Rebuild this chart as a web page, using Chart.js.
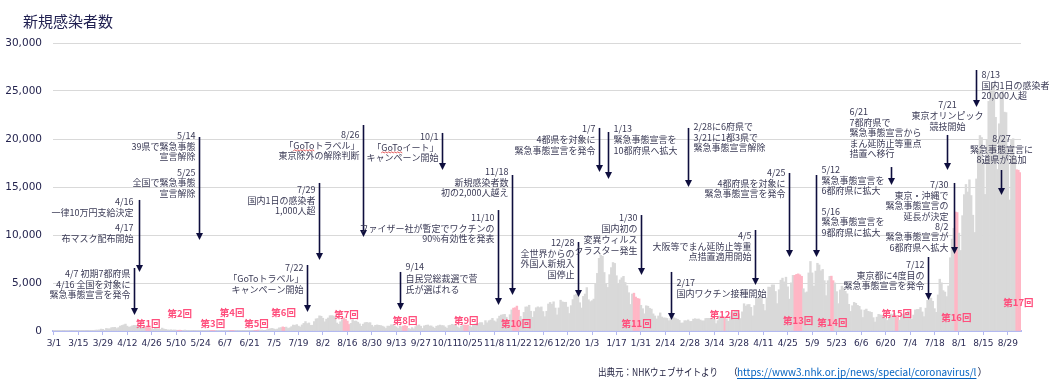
<!DOCTYPE html>
<html>
<head>
<meta charset="utf-8">
<script src="https://cdn.jsdelivr.net/npm/chart.js@4.4.1/dist/chart.umd.min.js"></script>
<style>
  html, body { margin: 0; padding: 0; background: #fff; }
</style>
</head>
<body>
<canvas id="myChart" width="1052" height="385"></canvas>
<script>
// daily new cases, 2020-03-01 ..
var mar2020 = [14, 15, 14, 33, 33, 59, 47, 33, 26, 54, 52, 56, 41, 64, 35, 15, 44, 39, 39, 54, 39, 37, 38, 65, 93, 97, 112, 200, 173, 85, 266];
var apr2020 = [225, 235, 351, 368, 383, 252, 351, 511, 576, 644, 720, 507, 390, 457, 549, 587, 576, 572, 386, 352, 373, 440, 436, 423, 344, 201, 184, 277, 243, 196];
var may2020 = [165, 302, 204, 175, 123, 98, 126, 91, 112, 90, 61, 89, 54, 61, 99, 44, 29, 31, 40, 50, 37, 26, 30, 21, 21, 34, 38, 84, 50, 31, 39];
var jun2020 = [34, 51, 39, 42, 47, 37, 46, 26, 45, 40, 56, 39, 45, 50, 42, 72, 41, 35, 71, 72, 49, 39, 57, 56, 60, 105, 90, 107, 58, 54];
var jul2020 = [127, 195, 250, 274, 208, 148, 207, 331, 355, 430, 385, 409, 260, 332, 450, 622, 585, 667, 510, 421, 632, 794, 981, 776, 839, 593, 602, 981, 1264, 1301, 1580];
var aug2020 = [1536, 1331, 959, 1236, 1356, 1595, 1605, 1569, 1439, 831, 700, 966, 1176, 1359, 1227, 1033, 680, 795, 1190, 1029, 1035, 913, 743, 491, 712, 866, 899, 852, 870, 599, 439];
var sep2020 = [595, 631, 588, 574, 509, 426, 265, 512, 500, 643, 643, 527, 434, 265, 513, 451, 522, 576, 490, 271, 203, 360, 232, 456, 566, 633, 499, 263, 537, 596];
var oct2020 = [627, 519, 531, 407, 277, 501, 555, 620, 568, 557, 418, 283, 570, 613, 700, 630, 612, 436, 306, 491, 611, 624, 600, 619, 484, 415, 606, 725, 802, 782, 876];
var nov2020 = [869, 613, 1081, 860, 1069, 1141, 1318, 1056, 949, 1278, 1547, 1660, 1703, 1735, 1439, 948, 1698, 2201, 2386, 2425, 2596, 2168, 1518, 1229, 1939, 2504, 2514, 2683, 2058, 1431];
var dec2020 = [2032, 2423, 2518, 2439, 2508, 2025, 1490, 2056, 2811, 2971, 2790, 3041, 2394, 1680, 2403, 3211, 3041, 2994, 2995, 2494, 1820, 2644, 3273, 3741, 3832, 3881, 2947, 2395, 3604, 3852, 4520];
var jan2021 = [3257, 3059, 3158, 3325, 4915, 6004, 7570, 7882, 7790, 6094, 4876, 4537, 5871, 6604, 7133, 7042, 5759, 4925, 5320, 5541, 5698, 5054, 4717, 3990, 2764, 3855, 3941, 3537, 3396, 3342, 2673];
var feb2021 = [2324, 1792, 2631, 2576, 2369, 2283, 1783, 1568, 1261, 1564, 1885, 1458, 1360, 1362, 1307, 1065, 1306, 1524, 1374, 1286, 1223, 1104, 830, 841, 1076, 1065, 1152, 994];
var mar2021 = [1003, 1236, 1284, 1225, 1256, 1146, 1057, 1056, 1305, 1315, 1317, 1320, 1274, 1209, 769, 1085, 1550, 1486, 1486, 1437, 1264, 1007, 1515, 1914, 1920, 2037, 2051, 1784, 1296, 1993, 2842];
var apr2021 = [2599, 2750, 2761, 2464, 1573, 2652, 3449, 3451, 3456, 3695, 2778, 2123, 3456, 4575, 4545, 4805, 4802, 4114, 2851, 4296, 5295, 5505, 5120, 5606, 4604, 3321, 5018, 5793, 5800, 5900];
var may2021 = [5950, 5850, 5700, 4402, 3992, 4072, 6050, 7244, 6054, 4677, 6242, 7056, 6879, 6267, 6416, 5245, 3681, 5240, 5689, 5714, 5241, 5004, 4100, 2851, 4271, 4666, 4466, 4134, 3874, 2776, 2039];
var jun2021 = [2632, 2978, 2886, 2669, 2574, 2209, 1410, 2180, 2284, 2045, 2003, 1941, 1390, 935, 1443, 1734, 1678, 1625, 1627, 1308, 1101, 1430, 1770, 1708, 1826, 1621, 1455, 1131, 1566, 1764];
var jul2021 = [1798, 1870, 2071, 2038, 1232, 1661, 2197, 2245, 2247, 2445, 1985, 1495, 2381, 3196, 3424, 3430, 3096, 2327, 1942, 3758, 5396, 5018, 4203, 4059, 3587, 4691, 7631, 9576, 10699, 12400, 12340];
var aug2021 = [10196, 8392, 12016, 14207, 15263, 14479, 15751, 14109, 12060, 10263, 15839, 18891, 20366, 20151, 17819, 14227, 19952, 23917, 25156, 25876, 25492, 22260, 16828, 21585, 24313, 24956, 22798, 22747, 19057, 13654, 19860];
var sep2021 = [20030, 18000, 16800, 16750, 16500];

var cases = [].concat(mar2020, apr2020, may2020, jun2020, jul2020, aug2020, sep2020, oct2020, nov2020, dec2020,
                      jan2021, feb2021, mar2021, apr2021, may2021, jun2021, jul2021, aug2021, sep2021);

// survey rounds (pink bars)
var roundNames = ['第1回', '第2回', '第3回', '第4回', '第5回', '第6回', '第7回', '第8回', '第9回', '第10回',
                  '第11回', '第12回', '第13回', '第14回', '第15回', '第16回', '第17回'];
var roundStart = ['2020-04-23', '2020-05-11', '2020-05-30', '2020-06-10', '2020-06-24', '2020-07-10', '2020-08-14', '2020-09-17', '2020-10-22', '2020-11-19',
                  '2021-01-27', '2021-03-20', '2021-04-29', '2021-05-20', '2021-06-26', '2021-07-30', '2021-09-03'];
var roundEnd   = ['2020-04-25', '2020-05-13', '2020-06-01', '2020-06-12', '2020-06-26', '2020-07-11', '2020-08-17', '2020-09-19', '2020-10-24', '2020-11-22',
                  '2021-01-30', '2021-03-20', '2021-05-03', '2021-05-21', '2021-06-27', '2021-07-31', '2021-09-05'];
var roundLabelY = [830, 1875, 830, 1980, 830, 1980, 1770, 1150, 1150, 830, 830, 1770, 1150, 940, 1875, 1460, 3020];

var yTicks = [0, 5000, 10000, 15000, 20000, 25000, 30000];
var tickStep = 14;

// category labels
var dayKeys = [], dayLabels = [];
for (var i = 0; i < cases.length; i++) {
  var d = new Date(2020, 2, 1 + i);
  var m = d.getMonth() + 1, dd = d.getDate();
  dayKeys.push(d.getFullYear() + '-' + (m < 10 ? '0' : '') + m + '-' + (dd < 10 ? '0' : '') + dd);
  dayLabels.push(m + '/' + dd);
}
function dayIndex(key) { return dayKeys.indexOf(key); }

var grayBar = '#d9d9d9', pinkBar = '#ffb6c5';
var barColors = cases.map(function () { return grayBar; });
roundStart.forEach(function (s, k) {
  for (var j = dayIndex(s); j <= dayIndex(roundEnd[k]); j++) barColors[j] = pinkBar;
});

// event notes: arrow at date d from value "top" down to value "tip"
var notes = [
  { d: '2020-04-16', top: 6560, tip: 1670, ty: 5940, lines: ['4/7 初期7都府県', '4/16 全国を対象に', '緊急事態宣言を発令'] },
  { d: '2020-04-19', top: 13650, tip: 6150, ty: 13440, dx: -6, lines: ['4/16', '一律10万円支給決定', '', '4/17', '布マスク配布開始'] },
  { d: '2020-05-23', top: 20210, tip: 9480, ty: 20310, lines: ['5/14', '39県で緊急事態', '宣言解除', '', '5/25', '全国で緊急事態', '宣言解除'] },
  { d: '2020-07-24', top: 6875, tip: 1980, ty: 6560, lh: 11, lines: ['7/22', '「GoToトラベル」', 'キャンペーン開始'] },
  { d: '2020-07-31', top: 15420, tip: 7400, ty: 14690, lines: ['7/29', '国内1日の感染者', '1,000人超'] },
  { d: '2020-08-25', top: 21460, tip: 9790, ty: 20420, wavy: true, lines: ['8/26', '「GoToトラベル」', '東京除外の解除判断'] },
  { d: '2020-09-15', top: 6150, tip: 2190, ty: 6670, align: 'left', lh: 11.5, lines: ['9/14', '自民党総裁選で菅', '氏が選ばれる'] },
  { d: '2020-10-09', top: 20630, tip: 16770, ty: 20210, wavy: true, lines: ['10/1', '「GoToイート」', 'キャンペーン開始'] },
  { d: '2020-11-10', top: 12600, tip: 2710, ty: 11770, lines: ['11/10', 'ファイザー社が暫定でワクチンの', '90%有効性を発表'] },
  { d: '2020-11-18', top: 16250, tip: 3750, ty: 16560, lines: ['11/18', '新規感染者数', '初の2,000人越え'] },
  { d: '2020-12-26', top: 9270, tip: 3540, ty: 9170, lines: ['12/28', '全世界からの', '外国人新規入', '国停止'] },
  { d: '2021-01-07', top: 21150, tip: 16560, ty: 21040, lh: 11, lines: ['1/7', '4都県を対象に', '緊急事態宣言を発令'] },
  { d: '2021-01-12', top: 20730, tip: 15830, ty: 21040, align: 'left', lh: 11, lines: ['1/13', '緊急事態宣言を', '10都府県へ拡大'] },
  { d: '2021-01-31', top: 12080, tip: 5830, ty: 11770, lh: 11, lines: ['1/30', '国内初の', '変異ウィルス', 'クラスター発生'] },
  { d: '2021-02-17', top: 6150, tip: 1150, ty: 5000, align: 'left', lines: ['2/17', '国内ワクチン接種開始'] },
  { d: '2021-02-27', top: 21150, tip: 15000, ty: 21250, align: 'left', lines: ['2/28に6府県で', '3/21に1都3県で', '緊急事態宣言解除'] },
  { d: '2021-04-06', top: 10520, tip: 4790, ty: 9900, lines: ['4/5', '大阪等でまん延防止等重', '点措置適用開始'] },
  { d: '2021-04-26', top: 16460, tip: 7710, ty: 16460, lines: ['4/25', '4都府県を対象に', '緊急事態宣言を発令'] },
  { d: '2021-05-11', top: 16250, tip: 7710, ty: 16770, align: 'left', lines: ['5/12', '緊急事態宣言を', '6都府県に拡大', '', '', '5/16', '緊急事態宣言を', '9都府県に拡大'] },
  { d: '2021-06-23', top: 17080, tip: 15210, ty: 22810, align: 'left', dx: -42, lines: ['6/21', '7都府県で', '緊急事態宣言から', 'まん延防止等重点', '措置へ移行'] },
  { d: '2021-07-25', top: 20420, tip: 16770, ty: 23540, align: 'center', lh: 11, lines: ['7/21', '東京オリンピック', '競技開始'] },
  { d: '2021-07-29', top: 15420, tip: 8020, ty: 15210, dx: -6, lines: ['7/30', '東京・沖縄で', '緊急事態宣言の', '延長が決定', '8/2', '緊急事態宣言が', '6都府県へ拡大'] },
  { d: '2021-07-14', top: 7710, tip: 3230, ty: 6875, lines: ['7/12', '東京都に4度目の', '緊急事態宣言を発令'] },
  { d: '2021-08-11', top: 27190, tip: 23330, ty: 26670, align: 'left', lines: ['8/13', '国内1日の感染者', '20,000人超'] },
  { d: '2021-08-25', top: 16770, tip: 14170, ty: 20000, align: 'center', lines: ['8/27', '緊急事態宣言に', '8道県が追加'] }
];

var jpFont = '"Noto Sans CJK JP", "Noto Sans", sans-serif';
var arrowColor = '#0e0e3e';
var noteColor = '#3a3a55';
var navy = '#1f1f50';

var notesPlugin = {
  id: 'notes',
  afterDraw: function (chart) {
    var ctx = chart.ctx, xs = chart.scales.x, ys = chart.scales.y;
    ctx.save();

    // title
    ctx.fillStyle = navy;
    ctx.font = '15px ' + jpFont;
    ctx.textAlign = 'left';
    ctx.textBaseline = 'middle';
    ctx.fillText('新規感染者数', 23, 21);

    // round labels
    ctx.font = 'bold 9.5px ' + jpFont;
    ctx.fillStyle = '#ff4f7d';
    ctx.textAlign = 'center';
    roundNames.forEach(function (name, k) {
      var x0 = xs.getPixelForValue(dayIndex(roundStart[k]));
      var x1 = xs.getPixelForValue(dayIndex(roundEnd[k]));
      ctx.fillText(name, (x0 + x1) / 2, ys.getPixelForValue(roundLabelY[k]));
    });

    // event arrows + text
    ctx.font = '9px ' + jpFont;
    notes.forEach(function (n) {
      var ax = Math.round(xs.getPixelForValue(dayIndex(n.d))) + 0.5;
      var top = ys.getPixelForValue(n.top), tip = ys.getPixelForValue(n.tip);
      ctx.strokeStyle = arrowColor;
      ctx.lineWidth = 1.6;
      ctx.beginPath();
      ctx.moveTo(ax, top);
      ctx.lineTo(ax, tip - 6);
      ctx.stroke();
      ctx.fillStyle = arrowColor;
      ctx.beginPath();
      ctx.moveTo(ax - 3.5, tip - 7);
      ctx.lineTo(ax + 3.5, tip - 7);
      ctx.lineTo(ax, tip);
      ctx.closePath();
      ctx.fill();

      var align = n.align || 'right';
      var tx = ax + (n.dx !== undefined ? n.dx : (align === 'right' ? -4 : align === 'left' ? 5 : 0));
      var lh = n.lh || 10.4;
      var ty = ys.getPixelForValue(n.ty);
      ctx.textAlign = align;
      ctx.fillStyle = noteColor;
      n.lines.forEach(function (t) {
        if (t === '') { ty += lh / 2; return; }
        ctx.fillText(t, tx, ty);
        if (n.wavy && t.indexOf('「GoTo') === 0) {
          var w = ctx.measureText(t).width;
          var left = align === 'right' ? tx - w : align === 'center' ? tx - w / 2 : tx;
          var sx = left + ctx.measureText('「').width;
          var ex = sx + ctx.measureText('GoTo').width;
          ctx.strokeStyle = '#e03030';
          ctx.lineWidth = 0.8;
          ctx.beginPath();
          var up = true;
          ctx.moveTo(sx, ty + 5.5);
          for (var px = sx + 1.5; px <= ex; px += 1.5) {
            ctx.lineTo(px, ty + (up ? 4.5 : 5.5));
            up = !up;
          }
          ctx.stroke();
        }
        ty += lh;
      });
    });

    // source line
    ctx.textAlign = 'left';
    ctx.font = '10px ' + jpFont;
    ctx.fillStyle = '#1d1d3d';
    ctx.fillText('出典元：NHKウェブサイトより', 598, 372, 120);
    ctx.fillText('（', 728, 372);
    var url = 'https://www3.nhk.or.jp/news/special/coronavirus/l';
    ctx.fillStyle = '#0563c1';
    var uw = Math.min(ctx.measureText(url).width, 245);
    ctx.fillText(url, 737, 372, 245);
    ctx.fillRect(737, 378, uw, 1);
    ctx.fillStyle = '#1d1d3d';
    ctx.fillText('）', 737 + uw + 1, 372);
    ctx.restore();
  }
};

var ctx1 = document.getElementById('myChart').getContext('2d');
var myChart = new Chart(ctx1, {
  type: 'bar',
  data: {
    labels: dayLabels,
    datasets: [{
      label: '新規感染者数',
      data: cases,
      backgroundColor: barColors,
      borderWidth: 0,
      barPercentage: 1,
      categoryPercentage: 1
    }]
  },
  options: {
    responsive: false,
    animation: false,
    events: [],
    layout: { padding: { top: 43, right: 31, left: 0, bottom: 0 } },
    plugins: {
      legend: { display: false },
      tooltip: { enabled: false }
    },
    scales: {
      x: {
        afterFit: function (s) { s.height = 54; },
        ticks: {
          autoSkip: false,
          maxRotation: 0,
          minRotation: 0,
          padding: 3,
          color: '#2b2b55',
          font: { family: 'DejaVu Sans', size: 9 },
          callback: function (v, i) { return i % tickStep === 0 ? dayLabels[i] : ''; }
        },
        grid: {
          offset: false,
          drawOnChartArea: false,
          tickLength: 4,
          lineWidth: 1,
          color: function (c) { return c.index % tickStep === 0 ? '#b3b9f0' : 'rgba(0,0,0,0)'; }
        },
        border: { color: '#b3b9f0', width: 2 }
      },
      y: {
        min: 0,
        max: 30000,
        afterFit: function (s) { s.width = 53; },
        afterBuildTicks: function (s) { s.ticks = yTicks.map(function (v) { return { value: v }; }); },
        ticks: {
          padding: 11,
          color: '#24244f',
          font: { family: 'DejaVu Sans', size: 10.5 },
          callback: function (v) { return v.toLocaleString('en-US'); }
        },
        grid: {
          drawTicks: false,
          lineWidth: 1,
          color: function (c) { return c.tick && c.tick.value === 0 ? 'rgba(0,0,0,0)' : '#d9d9d9'; }
        },
        border: { display: false }
      }
    }
  },
  plugins: [notesPlugin]
});
</script>
</body>
</html>
